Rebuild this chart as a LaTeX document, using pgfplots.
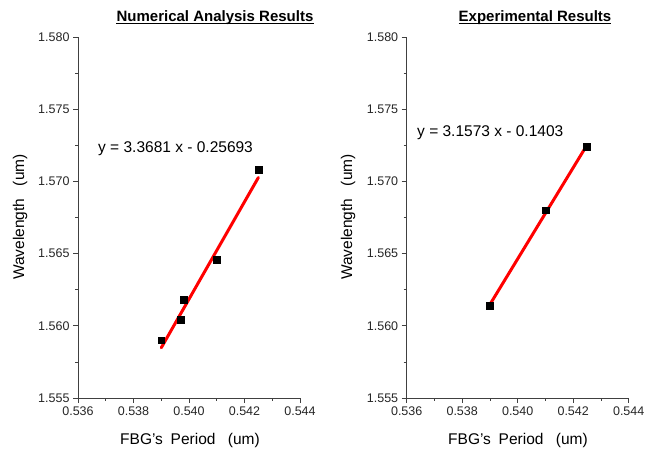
\documentclass[border=0pt]{standalone}
\usepackage{pgfplots}
\pgfplotsset{compat=1.18}
\usepackage{fontspec}
\setmainfont{Liberation Sans}
\begin{document}
\begin{tikzpicture}
\path[use as bounding box] (0pt,0pt) rectangle (655pt,455pt);
\pgfplotsset{
  fbg/.style={
    scale only axis, width=222pt, height=361pt, anchor=south west,
    xmin=0.536, xmax=0.544, ymin=1.555, ymax=1.580,
    axis lines=left, axis line style={-, black!75, line width=0.6pt},
    xtick={0.536,0.538,0.540,0.542,0.544},
    ytick={1.555,1.560,1.565,1.570,1.575,1.580},
    minor x tick num=1, minor y tick num=1,
    tick align=outside, major tick length=5pt, minor tick length=3pt,
    tick style={black!75, line width=0.6pt},
    scaled ticks=false,
    /pgf/number format/assume math mode=true,
    xticklabel style={/pgf/number format/.cd, fixed, fixed zerofill, precision=3},
    yticklabel style={/pgf/number format/.cd, fixed, fixed zerofill, precision=3},
    tick label style={font=\fontsize{12.5}{14}\selectfont, text=black!85},
    clip=false,
  }
}
% ---- Left panel ----
\begin{axis}[fbg, at={(78pt,57pt)}]
\addplot[only marks, mark=square*, mark size=3.4pt, black] coordinates {
  (0.5390,1.5590) (0.5397,1.5604) (0.5398,1.5618) (0.5410,1.5646) (0.5425,1.5708)
};
\addplot[red, line width=3pt, line cap=round] coordinates {
  (0.5390,1.55848) (0.5425,1.57027)
};
\end{axis}
% ---- Right panel ----
\begin{axis}[fbg, at={(406.7pt,57pt)}]
\addplot[only marks, mark=square*, mark size=3.4pt, black] coordinates {
  (0.5390,1.5614) (0.5410,1.5680) (0.5425,1.5724)
};
\addplot[red, line width=3pt, line cap=round] coordinates {
  (0.5390,1.56148) (0.5425,1.57253)
};
\end{axis}
% ---- Titles ----
\node[font=\bfseries\fontsize{15}{17}\selectfont, inner sep=0pt] (t1) at (215pt,437pt) {Numerical Analysis Results};
\draw[line width=0.9pt] ([yshift=-1.8pt]t1.base west) -- ([yshift=-1.8pt]t1.base east);
\node[font=\bfseries\fontsize{15}{17}\selectfont, inner sep=0pt] (t2) at (535pt,437pt) {Experimental Results};
\draw[line width=0.9pt] ([yshift=-1.8pt]t2.base west) -- ([yshift=-1.8pt]t2.base east);
% ---- Equations ----
\node[font=\fontsize{15.5}{17}\selectfont, anchor=west, inner sep=0pt] at (98pt,306pt) {y = 3.3681 x - 0.25693};
\node[font=\fontsize{15.5}{17}\selectfont, anchor=west, inner sep=0pt] at (417pt,322pt) {y = 3.1573 x - 0.1403};
% ---- Axis labels ----
\node[font=\fontsize{15.5}{17}\selectfont, inner sep=0pt] at (190pt,15pt) {FBG's\hspace{0.5em}Period\hspace{0.8em}(um)};
\node[font=\fontsize{15.5}{17}\selectfont, inner sep=0pt] at (518pt,15pt) {FBG's\hspace{0.5em}Period\hspace{0.8em}(um)};
\node[font=\fontsize{15.5}{17}\selectfont, inner sep=0pt, rotate=90] at (20pt,238pt) {Wavelength\hspace{0.8em}(um)};
\node[font=\fontsize{15.5}{17}\selectfont, inner sep=0pt, rotate=90] at (348pt,238pt) {Wavelength\hspace{0.8em}(um)};
\end{tikzpicture}
\end{document}
